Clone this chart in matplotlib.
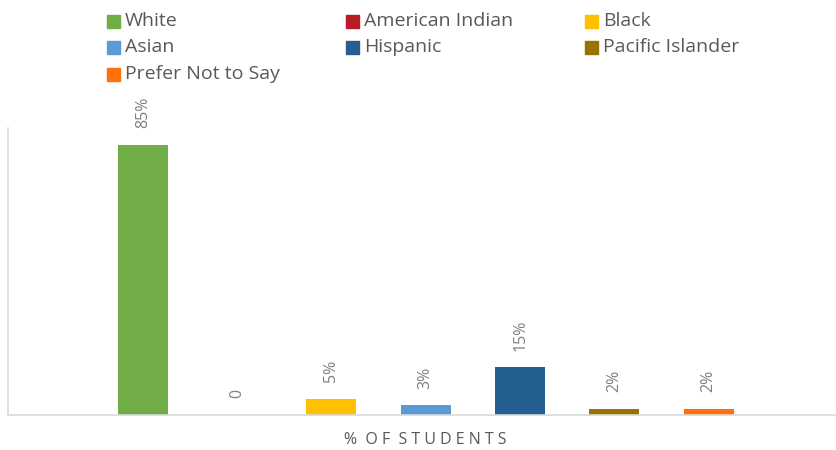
import matplotlib.pyplot as plt
from matplotlib.patches import Rectangle

groups = ["White", "American Indian", "Black", "Asian", "Hispanic",
          "Pacific Islander", "Prefer Not to Say"]
percent = [85, 0, 5, 3, 15, 2, 2]
labels = ["85%", "0", "5%", "3%", "15%", "2%", "2%"]
colors = ["#70AD47", "#B81D27", "#FFC000", "#5B9BD5", "#255E91",
          "#997300", "#FF700A"]

plt.rcParams['font.family'] = ['Open Sans', 'DejaVu Sans']

W, H = 836, 450
fig = plt.figure(figsize=(W / 100, H / 100), dpi=100)
ax = fig.add_axes([8 / W, (H - 415) / H, 828 / W, 287 / H])

pos = list(range(len(groups)))
ax.bar(pos, percent, width=0.53, color=colors, zorder=2)
ax.set_xlim(-1.43, 7.35)
ax.set_ylim(0, 90.4)

for x, v, lab in zip(pos, percent, labels):
    ax.annotate(lab, (x, v), xytext=(0, 12), textcoords="offset points",
                rotation=90, ha="center", va="bottom", fontsize=11.5,
                color="#7F7F7F")

for side in ["top", "right"]:
    ax.spines[side].set_visible(False)
for side in ["left", "bottom"]:
    ax.spines[side].set_color("#D9D9D9")
    ax.spines[side].set_linewidth(1.2)
ax.set_xticks([])
ax.set_yticks([])

fig.text(425 / W, 1 - 440 / H, "%  O F  S T U D E N T S", ha="center",
         va="center", fontsize=11.5, color="#595959")

# legend laid out row by row, three columns
for i, (g, c) in enumerate(zip(groups, colors)):
    row, col = divmod(i, 3)
    x0 = 107 + col * 239
    yc = 21 + row * 26.5
    fig.patches.append(Rectangle((x0 / W, 1 - (yc + 6.5) / H), 13 / W, 13 / H,
                                 transform=fig.transFigure, color=c))
    fig.text((x0 + 18) / W, 1 - yc / H, g, ha="left", va="center",
             fontsize=14, color="#595959")

fig.savefig("out.png", dpi=100)
